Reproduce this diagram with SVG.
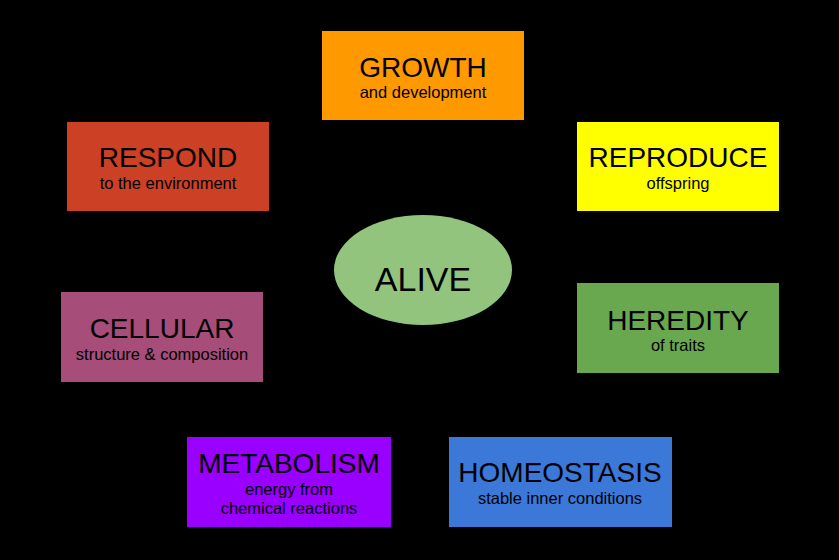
<svg xmlns="http://www.w3.org/2000/svg" width="839" height="560" viewBox="0 0 839 560">
<style>
text{font-family:"Liberation Sans",Arial,sans-serif;fill:#000;text-anchor:middle}
.t{font-size:28px}
.s{font-size:16.5px}
.c{font-size:34px}
</style>
<rect x="0" y="0" width="839" height="560" fill="#000"/>
<g id="connectors"></g>
<g id="growth"><rect x="322" y="31" width="202" height="89" fill="#FF9900"/><text class="t" x="423" y="77">GROWTH</text><text class="s" x="423" y="98">and development</text></g>
<g id="respond"><rect x="67" y="122" width="202" height="89" fill="#CC4125"/><text class="t" x="168" y="167">RESPOND</text><text class="s" x="168" y="189">to the environment</text></g>
<g id="reproduce"><rect x="577" y="122" width="202" height="89" fill="#FFFF00"/><text class="t" x="678" y="167">REPRODUCE</text><text class="s" x="678" y="189">offspring</text></g>
<g id="alive"><ellipse cx="423" cy="270" rx="89" ry="55" fill="#93C47D"/><text class="c" x="423" y="291">ALIVE</text></g>
<g id="cellular"><rect x="61" y="292" width="202" height="90" fill="#A64D79"/><text class="t" x="162" y="338">CELLULAR</text><text class="s" x="162" y="360">structure &amp; composition</text></g>
<g id="heredity"><rect x="577" y="283" width="202" height="90" fill="#6AA84F"/><text class="t" x="678" y="330">HEREDITY</text><text class="s" x="678" y="351">of traits</text></g>
<g id="metabolism"><rect x="187" y="437" width="204" height="90" fill="#9900FF"/><text class="t" x="289" y="473">METABOLISM</text><text class="s" x="289" y="495">energy from</text><text class="s" x="289" y="514">chemical reactions</text></g>
<g id="homeostasis"><rect x="449" y="437" width="223" height="90" fill="#3C78D8"/><text class="t" x="560" y="482">HOMEOSTASIS</text><text class="s" x="560" y="504">stable inner conditions</text></g>
</svg>
